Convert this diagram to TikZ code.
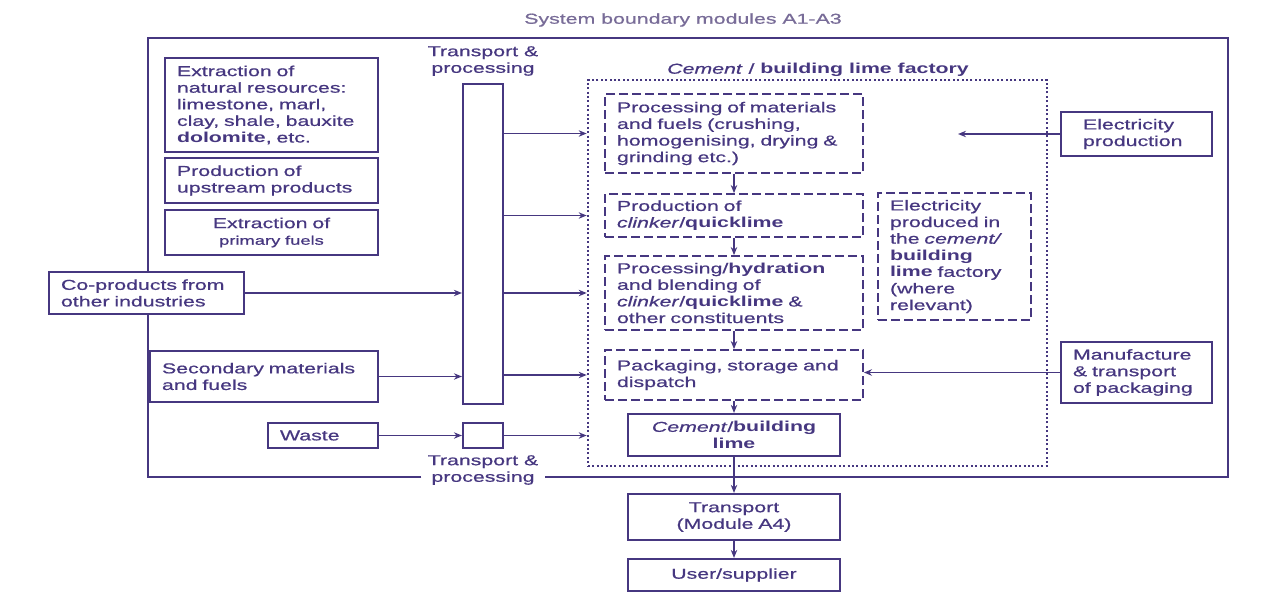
\documentclass[tikz,border=0pt]{standalone}
\usepackage{fontspec}
\setmainfont[FakeStretch=1.48, UprightFeatures={FakeBold=0.6}, ItalicFeatures={FakeBold=0.6}]{Liberation Sans}
\usetikzlibrary{arrows.meta}

\definecolor{ink}{RGB}{70,55,128}
\definecolor{faint}{RGB}{120,108,152}
\newcommand{\lbl}{\fontsize{7.2}{8.3}\selectfont}

\tikzset{
  blk/.style={draw=ink, line width=1.1pt, text=ink, font=\lbl, inner xsep=6pt, inner ysep=0pt, align=left},
  stage/.style={blk, line width=0.9pt, dash pattern=on 4.5pt off 2pt},
  arr/.style={draw=ink, line width=0.9pt, -{Stealth[length=4pt,width=3.2pt]}},
  bound/.style={draw=ink, line width=1.3pt},
  tag/.style={text=ink, font=\lbl, align=center, inner sep=3pt},
}

\begin{document}
\begin{tikzpicture}[x=0.5pt, y=-0.5pt]
  \fill[white] (0,0) rectangle (1268,594);

  \node[tag, text=faint] (title) at (683,20) {System boundary modules A1-A3};

  % upstream side
  \node[blk, text width=94.5pt, minimum height=47pt] (natres) at (271.5,105)
    {Extraction of\\natural resources:\\limestone, marl,\\clay, shale, bauxite\\\textbf{dolomite}, etc.};
  \node[blk, text width=94.5pt, minimum height=22.5pt] (upstr) at (271.5,180.5)
    {Production of\\upstream products};
  \node[blk, text width=94.5pt, minimum height=22.5pt, align=center] (fuels) at (271.5,232.5)
    {Extraction of\\{\fontsize{6.2}{7.5}\selectfont primary fuels}};
  \node[blk, text width=85.5pt, minimum height=21pt] (coprod) at (146.5,293)
    {Co-products from\\other industries};
  \node[blk, text width=102pt, minimum height=25.5pt] (second) at (264,376.5)
    {Secondary materials\\and fuels};
  \node[blk, text width=43pt, minimum height=12.5pt] (waste) at (323,435.5) {Waste};

  % transport bars
  \node[blk, minimum width=20pt, minimum height=160pt, inner sep=0pt] (bar) at (483,244) {};
  \node[blk, minimum width=20pt, minimum height=12.5pt, inner sep=0pt] (sbar) at (483,435.5) {};
  \node[tag] (tpup) at (483,61) {Transport \&\\processing};
  \node[tag] (tplow) at (483,470) {Transport \&\\processing};

  % factory
  \node[draw=ink, line width=1.3pt, dash pattern=on 1pt off 1.2pt, minimum width=229.5pt, minimum height=193pt] (factory) at (817.5,273) {};
  \node[tag] (factlbl) at (818,70) {\textit{Cement} / \textbf{building lime factory}};

  \node[stage, text width=117pt, minimum height=39.5pt] (proc) at (734,133.5)
    {Processing of materials\\and fuels (crushing,\\homogenising, drying \&\\grinding etc.)};
  \node[stage, text width=117pt, minimum height=21.5pt] (clink) at (734,215.5)
    {Production of\\\textit{clinker}/\textbf{quicklime}};
  \node[stage, text width=117pt, minimum height=37pt] (blend) at (734,293)
    {Processing/\textbf{hydration}\\and blending of\\\textit{clinker}/\textbf{quicklime} \&\\other constituents};
  \node[stage, text width=117pt, minimum height=25pt] (pack) at (734,375)
    {Packaging, storage and\\dispatch};
  \node[blk, text width=94pt, minimum height=21pt, align=center] (cement) at (734,435)
    {\textit{Cement}/\textbf{building}\\\textbf{lime}};
  \node[stage, text width=64.5pt, minimum height=63.5pt] (elecin) at (954.5,256.5)
    {Electricity\\produced in\\the \textit{cement/}\\\textbf{building}\\\textbf{lime} factory\\(where\\relevant)};

  % outside suppliers
  \node[blk, inner xsep=11pt, text width=53.5pt, minimum height=22pt] (elec) at (1136.5,134)
    {Electricity\\production};
  \node[blk, text width=63.5pt, minimum height=30.5pt] (manuf) at (1136.5,372.5)
    {Manufacture\\\& transport\\of packaging};

  % downstream
  \node[blk, text width=94pt, minimum height=23pt, align=center] (trans) at (734,517)
    {Transport\\(Module A4)};
  \node[blk, text width=94pt, minimum height=16pt, align=center] (user) at (734,575)
    {User/supplier};

  % system boundary
  \coordinate (ctl) at (148,38);
  \coordinate (ctr) at (1228,38);
  \coordinate (cbr) at (1228,477);
  \coordinate (cbl) at (148,477);
  \draw[bound] (coprod.north -| ctl) -- (ctl) -- (ctr) -- (cbr) -- (tplow.east |- cbr);
  \draw[bound] (tplow.west |- cbl) -- (cbl) -- (coprod.south -| cbl);

  % flows
  \draw[arr] (coprod.east) -- (bar.west |- coprod.east);
  \draw[arr] (second.east) -- (bar.west |- second.east);
  \draw[arr] (waste.east) -- (sbar.west);
  \draw[arr] (sbar.east) -- (factory.west |- sbar.east);
  \foreach \s in {proc, clink, blend, pack}
    \draw[arr] (bar.east |- \s.west) -- (factory.west |- \s.west);

  \coordinate (elecend) at (958,134);
  \draw[arr] (elec.west) -- (elecend);
  \draw[arr] (manuf.west) -- (pack.east |- manuf.west);

  \draw[arr] (proc.south) -- (clink.north);
  \draw[arr] (clink.south) -- (blend.north);
  \draw[arr] (blend.south) -- (pack.north);
  \draw[arr] (pack.south) -- (cement.north);
  \draw[arr] (cement.south) -- (trans.north);
  \draw[arr] (trans.south) -- (user.north);
\end{tikzpicture}
\end{document}
